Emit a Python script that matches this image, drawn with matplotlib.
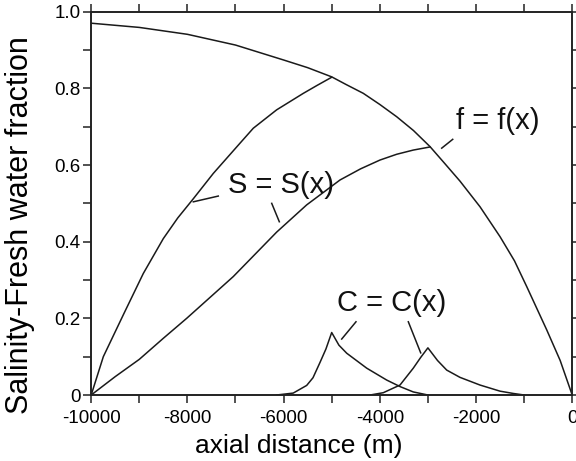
import numpy as np
import matplotlib.pyplot as plt
from matplotlib.ticker import MultipleLocator, FuncFormatter

plt.rcParams['font.family'] = ['Liberation Sans', 'DejaVu Sans']
plt.rcParams['axes.unicode_minus'] = False

# ── Data ──────────────────────────────────────────────────
# fresh water fraction f(x)
f_x = [-10000, -9000, -8000, -7000, -6000, -5500, -5000, -4700, -4343,
       -4000, -3649, -3300, -2956, -2650, -2333, -1916, -1500, -1200,
       -946, -530, -250, 0]
f_y = [0.970, 0.959, 0.941, 0.913, 0.874, 0.854, 0.830, 0.810, 0.787,
       0.758, 0.726, 0.690, 0.648, 0.604, 0.558, 0.491, 0.413, 0.350,
       0.283, 0.170, 0.090, 0.0]

# salinity, first profile (meets f at -5000)
s1_x = [-10000, -9748, -9318, -8917, -8501, -8200, -7877, -7462, -6906,
        -6630, -6144, -5590, -5300, -5000]
s1_y = [0.0, 0.100, 0.213, 0.317, 0.408, 0.462, 0.512, 0.578, 0.657,
        0.696, 0.744, 0.787, 0.808, 0.829]

# salinity, second profile (meets f at -3000)
s2_x = [-10000, -9500, -9000, -8500, -8015, -7046, -6144, -5520, -4827,
        -4400, -3996, -3650, -3304, -2960]
s2_y = [0.0, 0.048, 0.093, 0.148, 0.200, 0.309, 0.425, 0.496, 0.561,
        0.590, 0.613, 0.628, 0.639, 0.647]

# concentration peaks
c1_x = [-6144, -5800, -5520, -5389, -5243, -5120, -5000, -4850, -4688,
        -4272, -3857, -3580, -3304, -3000]
c1_y = [0.0, 0.005, 0.025, 0.045, 0.085, 0.120, 0.163, 0.130, 0.109,
        0.070, 0.039, 0.022, 0.008, 0.0]
c2_x = [-4200, -3927, -3580, -3304, -3150, -3000, -2800, -2609, -2333,
        -1917, -1500, -1224, -1000]
c2_y = [0.0, 0.006, 0.026, 0.070, 0.098, 0.123, 0.090, 0.065, 0.046,
        0.026, 0.010, 0.004, 0.0]

# annotation labels and leader lines
labels = ['S = S(x)', 'f = f(x)', 'C = C(x)']
label_xy = [(-6058, 0.548), (-1553, 0.715), (-3753, 0.241)]
leaders = [((-7877, 0.504), (-7358, 0.519)),
           ((-6247, 0.500), (-6089, 0.452)),
           ((-2713, 0.644), (-2484, 0.667)),
           ((-4792, 0.146), (-4495, 0.191)),
           ((-3407, 0.191), (-3150, 0.110))]

# ── Plot ──────────────────────────────────
fig = plt.figure(figsize=(5.76, 4.61), dpi=100)
ax = fig.add_axes([91.2 / 576, 1 - 395 / 461, 481 / 576, 383.3 / 461])

lw = 1.1
for xs, ys in [(f_x, f_y), (s1_x, s1_y), (s2_x, s2_y), (c1_x, c1_y), (c2_x, c2_y)]:
    ax.plot(xs, ys, color='#1a1a1a', lw=lw)

for (x0, y0), (x1, y1) in leaders:
    ax.plot([x0, x1], [y0, y1], color='#1a1a1a', lw=lw)

for txt, (tx, ty) in zip(labels, label_xy):
    ax.text(tx, ty, txt, fontsize=21, ha='center', va='center', color='#111111')

ax.set_xlim(-10000, 0)
ax.set_ylim(0, 1.0)

ax.xaxis.set_major_locator(MultipleLocator(2000))
ax.xaxis.set_minor_locator(MultipleLocator(1000))
ax.yaxis.set_major_locator(MultipleLocator(0.2))
ax.yaxis.set_minor_locator(MultipleLocator(0.1))
ax.yaxis.set_major_formatter(FuncFormatter(lambda v, p: '0' if abs(v) < 1e-9 else '%.1f' % v))
ax.xaxis.set_major_formatter(FuncFormatter(lambda v, p: '%d' % round(v)))

ax.tick_params(which='both', direction='out', length=6, width=1.1,
               labelsize=13.5, color='#222222')
ax.tick_params(axis='x', pad=5)
ax.tick_params(axis='y', pad=1.5)
ax.tick_params(which='both', top=True, right=True, labeltop=False, labelright=False)
for sp in ax.spines.values():
    sp.set_linewidth(1.4)
    sp.set_color('#222222')

ax.set_xlabel('axial distance (m)', fontsize=19, va='center')
ax.xaxis.set_label_coords(0.432, -0.1325)
ax.set_ylabel('Salinity-Fresh water fraction', fontsize=22, va='center')
ax.yaxis.set_label_coords(-0.147, 0.443)

fig.savefig('out.png', dpi=100)
